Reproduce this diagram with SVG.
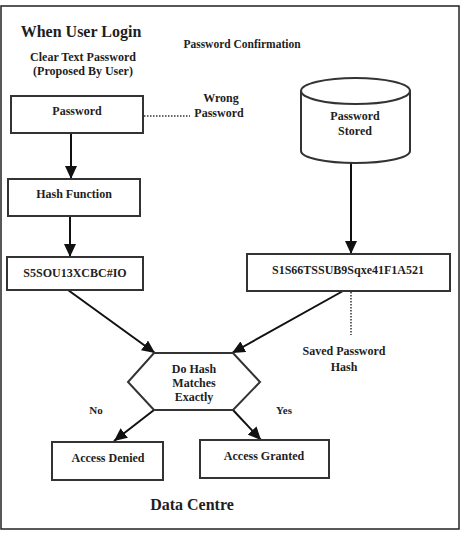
<svg xmlns="http://www.w3.org/2000/svg" width="465" height="535" viewBox="0 0 465 535">
<style>
text{font-family:"Liberation Serif","Times New Roman",serif;font-weight:bold;fill:#1e1e1e;text-anchor:middle}
.t12{font-size:12px}
.t11{font-size:11px}
.t16{font-size:16px}
.box{fill:#fff;stroke:#333;stroke-width:2}
.ln{stroke:#111;stroke-width:2;fill:none}
.dot{stroke:#333;stroke-width:1.5;stroke-dasharray:1.5 1.5;fill:none}
</style>
<defs>
<marker id="ah" markerUnits="userSpaceOnUse" markerWidth="14" markerHeight="12" refX="13" refY="6" orient="auto">
<path d="M0,0 L13,6 L0,12 z" fill="#111"/>
</marker>
</defs>
<rect x="1" y="6" width="458" height="523" fill="#fff" stroke="#222" stroke-width="1.5"/>
<g id="titles">
<text class="t16" x="81" y="37">When User Login</text>
<text class="t12" x="83" y="61">Clear Text Password</text>
<text class="t12" x="83" y="75">(Proposed By User)</text>
<text class="t12" x="242" y="48" style="font-size:11.5px">Password Confirmation</text>
<text class="t16" x="192" y="510">Data Centre</text>
</g>
<g id="connectors">
<line class="ln" x1="71" y1="133" x2="71" y2="179" marker-end="url(#ah)"/>
<line class="ln" x1="70" y1="216" x2="70" y2="257" marker-end="url(#ah)"/>
<line class="ln" x1="351" y1="163" x2="351" y2="254" marker-end="url(#ah)"/>
<line class="ln" x1="68" y1="290" x2="155" y2="353" marker-end="url(#ah)"/>
<line class="ln" x1="343" y1="291" x2="232" y2="353" marker-end="url(#ah)"/>
<line class="ln" x1="154" y1="410" x2="114" y2="441" marker-end="url(#ah)"/>
<line class="ln" x1="233" y1="410" x2="261" y2="440" marker-end="url(#ah)"/>
<line class="dot" x1="144" y1="116" x2="190" y2="116"/>
<line class="dot" x1="351" y1="292" x2="351" y2="335"/>
</g>
<g id="labels">
<text class="t12" x="221" y="102">Wrong</text>
<text class="t12" x="219" y="117">Password</text>
<text class="t12" x="344" y="355">Saved Password</text>
<text class="t12" x="344" y="371">Hash</text>
<text class="t11" x="96" y="414">No</text>
<text class="t11" x="284" y="414">Yes</text>
</g>
<g id="password">
<rect class="box" x="11" y="96" width="132" height="37"/>
<text class="t12" x="77" y="115">Password</text>
</g>
<g id="hash-function">
<rect class="box" x="8" y="179" width="132" height="37"/>
<text class="t12" x="74" y="198">Hash Function</text>
</g>
<g id="hash-user">
<rect class="box" x="7" y="257" width="136" height="33"/>
<text class="t12" x="75" y="277">S5SOU13XCBC#IO</text>
</g>
<g id="password-stored">
<path class="box" d="M301,91 L301,151 A54.5,12 0 0 0 410,151 L410,91"/>
<ellipse class="box" cx="355.5" cy="91" rx="54.5" ry="13"/>
<text class="t12" x="355" y="120">Password</text>
<text class="t12" x="355" y="135">Stored</text>
</g>
<g id="hash-saved">
<rect class="box" x="247" y="254" width="203" height="37"/>
<text class="t12" x="348" y="274">S1S66TSSUB9Sqxe41F1A521</text>
</g>
<g id="decision">
<polygon class="box" points="154,353 233,353 260,382 233,410 154,410 128,382"/>
<text class="t12" x="194" y="373">Do Hash</text>
<text class="t12" x="194" y="387">Matches</text>
<text class="t12" x="194" y="401">Exactly</text>
</g>
<g id="access-denied">
<rect class="box" x="52" y="442" width="111" height="38"/>
<text class="t12" x="108" y="462">Access Denied</text>
</g>
<g id="access-granted">
<rect class="box" x="200" y="440" width="129" height="38"/>
<text class="t12" x="264" y="460">Access Granted</text>
</g>
</svg>
